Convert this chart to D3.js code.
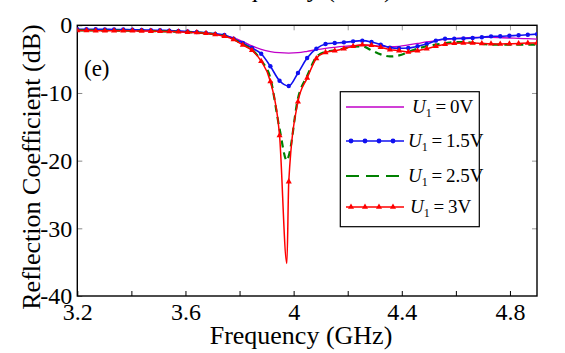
<!DOCTYPE html>
<html>
<head>
<meta charset="utf-8">
<script src="https://cdn.jsdelivr.net/npm/d3@7"></script>
<style>
  body { margin: 0; background: #fff; }
  svg { display: block; }
  text { font-family: "Liberation Serif", "Times New Roman", Times, serif; fill: #000; }
</style>
</head>
<body>
<div id="chart"></div>
<script>
// frequency grid (GHz)
const freq = [3.2, 3.234, 3.268, 3.302, 3.336, 3.37, 3.404, 3.438, 3.472, 3.506,
  3.54, 3.574, 3.608, 3.642, 3.676, 3.71, 3.744, 3.778, 3.812, 3.846,
  3.88, 3.914, 3.948, 3.982, 4.016, 4.05, 4.084, 4.118, 4.152, 4.186,
  4.22, 4.254, 4.288, 4.322, 4.356, 4.39, 4.424, 4.458, 4.492, 4.526,
  4.56, 4.594, 4.628, 4.662, 4.696, 4.73, 4.764, 4.798, 4.832, 4.866, 4.9]

// U1 = 0V
const u0 = [-0.70, -0.70, -0.71, -0.72, -0.73, -0.75, -0.77, -0.80, -0.83, -0.87,
  -0.91, -0.96, -1.02, -1.10, -1.20, -1.33, -1.52, -1.85, -2.40, -3.05,
  -3.55, -3.88, -4.05, -4.10, -4.05, -3.85, -3.60, -3.40, -3.25, -3.12,
  -3.02, -2.97, -3.00, -3.08, -3.15, -3.10, -2.90, -2.68, -2.45, -2.25,
  -2.08, -1.95, -1.86, -1.80, -1.78, -1.79, -1.83, -1.88, -1.93, -1.98, -2.03]

// U1 = 1.5V
const u15 = [-0.58, -0.58, -0.59, -0.60, -0.61, -0.63, -0.65, -0.68, -0.71, -0.74,
  -0.78, -0.84, -0.91, -1.00, -1.12, -1.26, -1.42, -1.98, -2.60, -3.35,
  -4.20, -6.06, -8.20, -8.97, -7.05, -4.83, -3.46, -2.76, -2.62, -2.52,
  -2.37, -2.27, -2.47, -2.86, -3.30, -3.40, -3.35, -3.10, -2.76, -2.27,
  -1.98, -1.98, -1.96, -1.88, -1.77, -1.63, -1.62, -1.55, -1.48, -1.40, -1.30]

// U1 = 2.5V
const u25 = [-0.76, -0.76, -0.77, -0.78, -0.79, -0.80, -0.81, -0.83, -0.85, -0.88,
  -0.91, -0.95, -1.00, -1.07, -1.17, -1.33, -1.58, -2.05, -2.82, -3.60,
  -5.20, -7.80, -15.3, -19.3, -10.8, -7.5, -4.7, -3.9, -3.7, -3.45,
  -3.15, -3.10, -3.70, -4.30, -4.60, -4.45, -3.95, -3.45, -3.10, -2.86,
  -2.66, -2.50, -2.48, -2.58, -2.74, -2.84, -2.86, -2.86, -2.86, -2.86, -2.86]

// U1 = 3V
const u3 = [-0.78, -0.78, -0.79, -0.79, -0.80, -0.81, -0.82, -0.84, -0.86, -0.89,
  -0.92, -0.96, -1.01, -1.08, -1.18, -1.35, -1.62, -2.10, -2.90, -3.70,
  -5.30, -8.30, -16.3, -23.1, -11.3, -7.8, -4.9, -4.0, -3.75, -3.46,
  -3.10, -2.86, -2.96, -3.25, -3.60, -3.75, -3.95, -3.75, -3.46, -3.10,
  -2.80, -2.65, -2.60, -2.60, -2.68, -2.74, -2.75, -2.72, -2.68, -2.63, -2.60]

// resonance minimum between grid points
const dipFreq = 3.975
const u25Dip = -20.0
const u3Dip = -35.2

const xTicks = [3.2, 3.4, 3.6, 3.8, 4.0, 4.2, 4.4, 4.6, 4.8]
const xLabeled = [3.2, 3.6, 4.0, 4.4, 4.8]
const yTicks = [0, -10, -20, -30, -40]
const legendLabels = ['0V', '1.5V', '2.5V', '3V']

const width = 565
const height = 353
const pLeft = 77.3, pRight = 537, pTop = 25.3, pBottom = 296
const serif = '"Liberation Serif", "Times New Roman", Times, serif'

const svg = d3.select('#chart')
  .append('svg')
  .attr('width', width)
  .attr('height', height)

const x = d3.scaleLinear().domain([3.2, 4.9]).range([pLeft, pRight])
const y = d3.scaleLinear().domain([-40, 0]).range([pBottom, pTop])

// cut-off title of the panel above
svg.append('text')
  .attr('x', 210)
  .attr('y', -3)
  .style('font-size', '26px')
  .text('Frequency (GHz)')

svg.append('clipPath')
  .attr('id', 'plot-clip')
  .append('rect')
  .attr('x', pLeft)
  .attr('y', pTop)
  .attr('width', pRight - pLeft)
  .attr('height', pBottom - pTop)

// axes (ticks inside)
const xAxis = svg.append('g')
  .attr('transform', `translate(0,${pBottom})`)
  .call(d3.axisBottom(x)
    .tickValues(xTicks)
    .tickSize(-5)
    .tickPadding(7)
    .tickFormat(d => xLabeled.includes(d) ? String(d) : ''))
xAxis.attr('font-family', serif)
xAxis.select('.domain').remove()
xAxis.selectAll('line').attr('stroke', '#000').attr('stroke-width', 1)
xAxis.selectAll('text')
  .style('font-size', '24px')
  .style('font-family', serif)

const yAxis = svg.append('g')
  .attr('transform', `translate(${pLeft},0)`)
  .call(d3.axisLeft(y)
    .tickValues(yTicks)
    .tickSize(-5)
    .tickPadding(5)
    .tickFormat(d => String(d)))
yAxis.attr('font-family', serif)
yAxis.select('.domain').remove()
yAxis.selectAll('line').attr('stroke', '#888')
yAxis.selectAll('text')
  .style('font-size', '24px')
  .style('font-family', serif)

const topAxis = svg.append('g')
  .attr('transform', `translate(0,${pTop})`)
  .call(d3.axisTop(x).tickValues(xTicks.slice(1)).tickSize(-5).tickFormat(''))
topAxis.select('.domain').remove()
topAxis.selectAll('line').attr('stroke', '#999')

const rightAxis = svg.append('g')
  .attr('transform', `translate(${pRight},0)`)
  .call(d3.axisRight(y).tickValues([-10, -20, -30]).tickSize(-5).tickFormat(''))
rightAxis.select('.domain').remove()
rightAxis.selectAll('line').attr('stroke', '#999')

svg.append('rect')
  .attr('x', pLeft)
  .attr('y', pTop)
  .attr('width', pRight - pLeft)
  .attr('height', pBottom - pTop)
  .attr('fill', 'none')
  .attr('stroke', '#000')
  .attr('stroke-width', 1.4)

// series
const pts = vals => freq.map((f, i) => ({ f: f, v: vals[i] }))
const withDip = (vals, dip) =>
  pts(vals).concat([{ f: dipFreq, v: dip }]).sort((a, b) => a.f - b.f)

const line = d3.line()
  .x(d => x(d.f))
  .y(d => y(d.v))
  .curve(d3.curveMonotoneX)

const plot = svg.append('g').attr('clip-path', 'url(#plot-clip)')

plot.append('path')
  .datum(pts(u0))
  .attr('d', line)
  .attr('fill', 'none')
  .attr('stroke', '#c000c8')
  .attr('stroke-width', 1.3)

plot.append('path')
  .datum(pts(u15))
  .attr('d', line)
  .attr('fill', 'none')
  .attr('stroke', '#1010f0')
  .attr('stroke-width', 1.6)

plot.selectAll('circle.u15')
  .data(pts(u15))
  .enter()
  .append('circle')
  .attr('class', 'u15')
  .attr('cx', d => x(d.f))
  .attr('cy', d => y(d.v))
  .attr('r', 2.2)
  .attr('fill', '#1010f0')

plot.append('path')
  .datum(withDip(u25, u25Dip))
  .attr('d', line)
  .attr('fill', 'none')
  .attr('stroke', '#008000')
  .attr('stroke-width', 2.2)
  .attr('stroke-dasharray', '7,5')

plot.append('path')
  .datum(withDip(u3, u3Dip))
  .attr('d', line)
  .attr('fill', 'none')
  .attr('stroke', '#ff0000')
  .attr('stroke-width', 1.5)

const tri = d3.symbol().type(d3.symbolTriangle).size(16)

plot.selectAll('path.u3')
  .data(pts(u3))
  .enter()
  .append('path')
  .attr('class', 'u3')
  .attr('d', tri)
  .attr('transform', d => `translate(${x(d.f)},${y(d.v)})`)
  .attr('fill', '#ff0000')

// panel label
svg.append('text')
  .attr('x', 84)
  .attr('y', 76)
  .style('font-size', '23px')
  .text('(e)')

// axis titles
svg.append('text')
  .attr('x', 301)
  .attr('y', 344)
  .attr('text-anchor', 'middle')
  .style('font-size', '26px')
  .text('Frequency (GHz)')

svg.append('text')
  .attr('transform', 'translate(40,167) rotate(-90)')
  .attr('text-anchor', 'middle')
  .style('font-size', '26px')
  .text('Reflection Coefficient (dB)')

// legend
const legend = svg.append('g')
legend.append('rect')
  .attr('x', 340.3)
  .attr('y', 91.7)
  .attr('width', 139)
  .attr('height', 135)
  .attr('fill', '#fff')
  .attr('stroke', '#000')
  .attr('stroke-width', 1.2)

const rowY = [107, 141, 176, 207]
const rowColor = ['#c000c8', '#1010f0', '#008000', '#ff0000']
const rowWidth = [1.3, 1.6, 2.2, 1.5]
const textX = [412, 408, 408, 410]

legendLabels.forEach((lab, i) => {
  legend.append('line')
    .attr('x1', 346)
    .attr('x2', 404)
    .attr('y1', rowY[i])
    .attr('y2', rowY[i])
    .attr('stroke', rowColor[i])
    .attr('stroke-width', rowWidth[i])
    .attr('stroke-dasharray', i === 2 ? '13,7' : null)

  const t = legend.append('text')
    .attr('x', textX[i])
    .attr('y', rowY[i] + 6)
    .style('font-size', '19px')
  t.append('tspan').style('font-style', 'italic').text('U')
  t.append('tspan').attr('dy', 4).style('font-size', '12px').text('1')
  t.append('tspan').attr('dy', -4).text('\u2009=\u2009' + lab)
})

const mx = [351, 365, 379, 393]
legend.selectAll('circle.lg')
  .data(mx)
  .enter()
  .append('circle')
  .attr('cx', d => d)
  .attr('cy', rowY[1])
  .attr('r', 2.4)
  .attr('fill', '#1010f0')

legend.selectAll('path.lg')
  .data(mx)
  .enter()
  .append('path')
  .attr('d', tri)
  .attr('transform', d => `translate(${d},${rowY[3]})`)
  .attr('fill', '#ff0000')
</script>
</body>
</html>
